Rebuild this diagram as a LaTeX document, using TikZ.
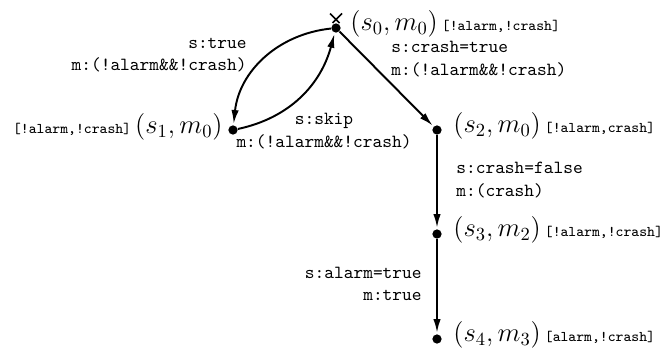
\documentclass[tikz,border=0pt]{standalone}
\usetikzlibrary{arrows.meta,calc}
\begin{document}
\begin{tikzpicture}[x=0.54pt,y=-0.54pt,
  st/.style={circle,fill=black,inner sep=0pt,minimum size=5pt},
  tr/.style={line width=1.05pt,-{Latex[length=7.5pt,width=4pt]},shorten >=0.6pt},
  el/.style={font=\ttfamily,inner sep=0pt},
  sl/.style={inner sep=0pt,font=\Large}]
\useasboundingbox (0,0) rectangle (666,347);
% states
\node[st] (s0) at (336,28) {};
\node[st] (s1) at (233,130) {};
\node[st] (s2) at (437,130) {};
\node[st] (s3) at (437,234) {};
\node[st] (s4) at (437,339) {};
% state labels
\node[sl,anchor=west] (l0) at ($(s0)+(14,-4)$) {$(s_0,m_0)$\hspace{0.15em}{\footnotesize\ttfamily[!alarm,!crash]}};
\node[sl,anchor=east] (l1) at ($(s1)+(-10,-3)$) {{\footnotesize\ttfamily[!alarm,!crash]}\hspace{0.15em}$(s_1,m_0)$};
\node[sl,anchor=west] (l2) at ($(s2)+(16,-4)$) {$(s_2,m_0)$\hspace{0.15em}{\footnotesize\ttfamily[!alarm,crash]}};
\node[sl,anchor=west] (l3) at ($(s3)+(16,-4)$) {$(s_3,m_2)$\hspace{0.15em}{\footnotesize\ttfamily[!alarm,!crash]}};
\node[sl,anchor=west] (l4) at ($(s4)+(16,-4)$) {$(s_4,m_3)$\hspace{0.15em}{\footnotesize\ttfamily[alarm,!crash]}};
% initial marker
\coordinate (x1) at ($(s0)+(-6,-14.5)$);
\coordinate (x2) at ($(s0)+(3.5,-5)$);
\coordinate (x3) at ($(s0)+(6,-14.5)$);
\coordinate (x4) at ($(s0)+(-3.5,-5)$);
\draw[line width=0.9pt] (x1) -- (x2) (x3) -- (x4);
% transitions
\draw[tr] (s0) to[out=186,in=84] (s1);
\draw[tr] (s1) to[out=12,in=255] (s0);
\draw[tr] (s0) -- (s2);
\draw[tr] (s2) -- (s3);
\draw[tr] (s3) -- (s4);
% transition labels
\node[el,anchor=east,align=right] (e01) at (247,55) {s:true\\m:(!alarm\&\&!crash)};
\node[el,anchor=center,align=center] (e10) at (324,131) {s:skip\\m:(!alarm\&\&!crash)};
\node[el,anchor=west,align=left] (e02) at (391,59) {s:crash=true\\m:(!alarm\&\&!crash)};
\node[el,anchor=west,align=left] (e23) at (456,180) {s:crash=false\\m:(crash)};
\node[el,anchor=east,align=right] (e34) at (422,284) {s:alarm=true\\m:true};
\end{tikzpicture}
\end{document}
